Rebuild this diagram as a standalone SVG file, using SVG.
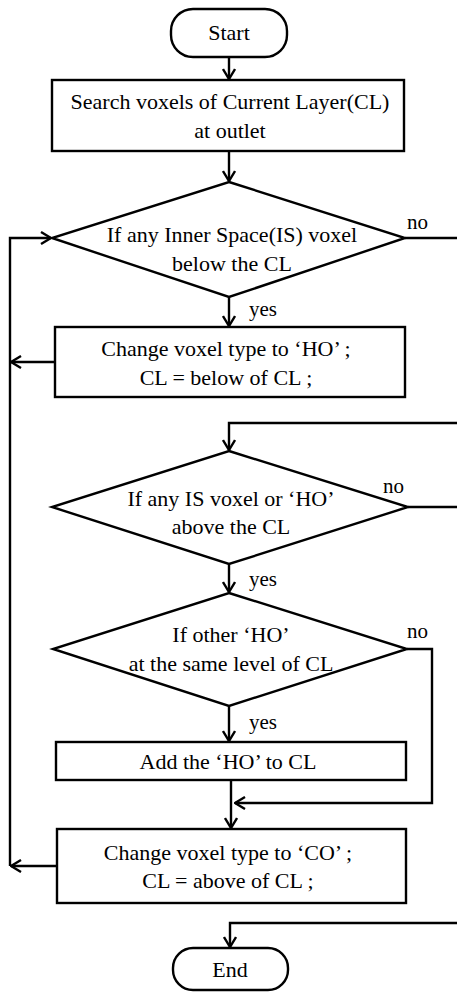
<svg xmlns="http://www.w3.org/2000/svg" width="457" height="993" viewBox="0 0 457 993">
<style>
.s{fill:#fff;stroke:#000;stroke-width:2.4}
.t{font-family:"Liberation Serif","Times New Roman",serif;font-size:22px;fill:#000;text-anchor:middle}
.l{font-family:"Liberation Serif","Times New Roman",serif;font-size:21px;fill:#000}
.c{fill:none;stroke:#000;stroke-width:2.4}
</style>
<defs>
<marker id="a" viewBox="0 0 12 14" refX="11" refY="7" markerWidth="12" markerHeight="14" markerUnits="userSpaceOnUse" orient="auto">
<path d="M1,1 L11,7 L1,13" fill="none" stroke="#000" stroke-width="2.4"/>
</marker>
</defs>
<rect width="457" height="993" fill="#fff"/>
<g id="connectors">
<path class="c" d="M229,57 V79" marker-end="url(#a)"/>
<path class="c" d="M229,151 V181" marker-end="url(#a)"/>
<path class="c" d="M229,297 V326" marker-end="url(#a)"/>
<path class="c" d="M405,238 H460"/>
<path class="c" d="M55,362 H11" marker-end="url(#a)"/>
<path class="c" d="M10,866 V238 H51" marker-end="url(#a)"/>
<path class="c" d="M460,423 H229 V450" marker-end="url(#a)"/>
<path class="c" d="M408,507 H460"/>
<path class="c" d="M229,564 V592" marker-end="url(#a)"/>
<path class="c" d="M407,649 H432 V803 H235" marker-end="url(#a)"/>
<path class="c" d="M229,706 V741" marker-end="url(#a)"/>
<path class="c" d="M231,780 V828" marker-end="url(#a)"/>
<path class="c" d="M57,866 H11" marker-end="url(#a)"/>
<path class="c" d="M460,923 H230 V947" marker-end="url(#a)"/>
<text class="l" x="407" y="229">no</text>
<text class="l" x="249" y="316">yes</text>
<text class="l" x="383" y="493">no</text>
<text class="l" x="249" y="586">yes</text>
<text class="l" x="407" y="638">no</text>
<text class="l" x="249" y="729">yes</text>
</g>
<g id="start">
<rect class="s" x="171" y="9" width="116" height="48" rx="22"/>
<text class="t" x="229" y="40">Start</text>
</g>
<g id="search">
<rect class="s" x="52" y="80" width="352" height="71"/>
<text class="t" x="230" y="109">Search voxels of Current Layer(CL)</text>
<text class="t" x="230" y="138">at outlet</text>
</g>
<g id="decision1">
<polygon class="s" points="229,182 405,238 229,297 52,238"/>
<text class="t" x="232" y="242">If any Inner Space(IS) voxel</text>
<text class="t" x="232" y="271">below the CL</text>
</g>
<g id="changeHO">
<rect class="s" x="55" y="327" width="350" height="70"/>
<text class="t" x="226" y="356">Change voxel type to ‘HO’ ;</text>
<text class="t" x="226" y="385">CL = below of CL ;</text>
</g>
<g id="decision2">
<polygon class="s" points="229,451 408,507 229,564 52,507"/>
<text class="t" x="231" y="506">If any IS voxel or ‘HO’</text>
<text class="t" x="231" y="534">above the CL</text>
</g>
<g id="decision3">
<polygon class="s" points="229,593 407,649 229,706 53,649"/>
<text class="t" x="231" y="642">If other ‘HO’</text>
<text class="t" x="231" y="671">at the same level of CL</text>
</g>
<g id="addHO">
<rect class="s" x="56" y="742" width="350" height="38"/>
<text class="t" x="228" y="769">Add the ‘HO’ to CL</text>
</g>
<g id="changeCO">
<rect class="s" x="57" y="829" width="349" height="74"/>
<text class="t" x="228" y="860">Change voxel type to ‘CO’ ;</text>
<text class="t" x="228" y="888">CL = above of CL ;</text>
</g>
<g id="end">
<rect class="s" x="173" y="948" width="115" height="42" rx="20"/>
<text class="t" x="230" y="977">End</text>
</g>
</svg>
